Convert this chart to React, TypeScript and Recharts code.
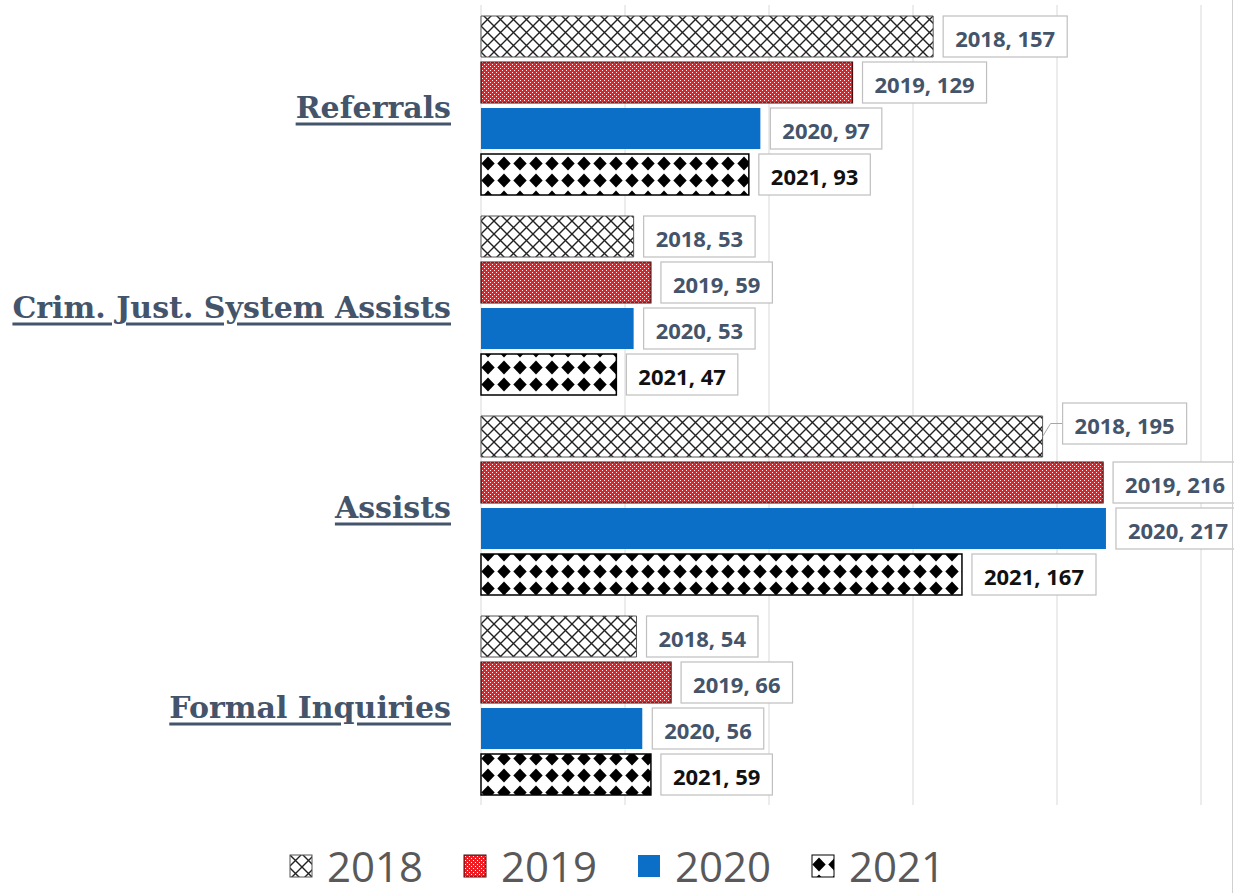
import React from 'react';
import { BarChart, Bar, XAxis, YAxis, CartesianGrid, LabelList } from 'recharts';

const categories = ['Referrals', 'Crim. Just. System Assists', 'Assists', 'Formal Inquiries'];
const years = ['2018', '2019', '2020', '2021'];
const values2018 = [157, 53, 195, 54];
const values2019 = [129, 59, 216, 66];
const values2020 = [97, 53, 217, 56];
const values2021 = [93, 47, 167, 59];
const xTicks = [0, 50, 100, 150, 200, 250];

const data = categories.map((category, i) => ({
  category,
  y2018: values2018[i],
  y2019: values2019[i],
  y2020: values2020[i],
  y2021: values2021[i],
}));

const fills: Record<string, string> = {
  '2018': 'url(#p2018)',
  '2019': 'url(#p2019)',
  '2020': '#0B6FC7',
  '2021': 'url(#p2021)',
};
const strokes: Record<string, string> = {
  '2018': '#555',
  '2019': '#4a0c0c',
  '2020': 'none',
  '2021': '#000',
};

// labels excel pushed off the bar end (drawn with a leader line)
const labelNudge: Record<string, { dx: number; dy: number }> = {
  'Assists|2018': { dx: 10, dy: -13 },
};

const LABEL_FONT = "700 22px 'Open Sans'";
let canvas: HTMLCanvasElement | null = null;
const measure = (s: string) => {
  if (!canvas) canvas = document.createElement('canvas');
  const ctx = canvas.getContext('2d');
  if (!ctx) return s.length * 12;
  ctx.font = LABEL_FONT;
  return ctx.measureText(s).width;
};

const makeLabel = (year: string) => (props: any) => {
  const { x, y, width, height, value, index } = props;
  const text = `${year}, ${value}`;
  const nudge = labelNudge[`${categories[index]}|${year}`] || { dx: 0, dy: 0 };
  const end = x + width;
  const bw = measure(text) + 24;
  const bx = end + 10 + nudge.dx;
  const by = y + nudge.dy;
  return (
    <g>
      {nudge.dx !== 0 && (
        <polyline
          points={`${end},${y + height / 2} ${end + 8},${by + height / 2} ${bx},${by + height / 2}`}
          fill="none"
          stroke="#A6A6A6"
        />
      )}
      <rect x={bx} y={by} width={bw} height={height} fill="#fff" stroke="#BFBFBF" strokeWidth={1.2} />
      <text
        x={bx + bw / 2}
        y={by + height / 2 + 1}
        textAnchor="middle"
        dominantBaseline="central"
        fontFamily="'Open Sans'"
        fontWeight={700}
        fontSize={22}
        fill={year === '2021' ? '#111' : '#44546A'}
      >
        {text}
      </text>
    </g>
  );
};

const CategoryTick = (props: any) => {
  const { y, payload } = props;
  return (
    <text
      x={451}
      y={y + 2}
      textAnchor="end"
      dominantBaseline="central"
      fontFamily="'DejaVu Serif'"
      fontWeight={700}
      fontSize={30}
      fill="#44546A"
      textDecoration="underline"
    >
      {payload.value}
    </text>
  );
};

const LegendBlock = () => (
  <div
    style={{
      position: 'absolute',
      left: 0,
      top: 846,
      width: 1234,
      display: 'flex',
      justifyContent: 'center',
      alignItems: 'center',
      gap: 40,
      fontFamily: "'Open Sans'",
      fontSize: 42,
      color: '#595959',
    }}
  >
    {years.map((yr) => (
      <div key={yr} style={{ display: 'flex', alignItems: 'center', gap: 14, height: 40 }}>
        <svg width={24} height={24}>
          <rect x={1} y={1} width={22} height={22} fill={fills[yr]} stroke={strokes[yr]} strokeWidth={1} />
        </svg>
        <span style={{ lineHeight: '40px' }}>{yr}</span>
      </div>
    ))}
  </div>
);

export default function App() {
  return (
    <div style={{ position: 'absolute', left: 0, top: 0, width: 1234, height: 893, background: '#fff' }}>
      <BarChart
        width={1234}
        height={893}
        data={data}
        layout="vertical"
        margin={{ top: 5, right: 33, bottom: 88, left: 0 }}
        barCategoryGap={11}
        barGap={5}
      >
        <defs>
          <pattern id="p2018" patternUnits="userSpaceOnUse" width={13} height={13}>
            <rect width={13} height={13} fill="#fff" />
            <path d="M0,0 L13,13 M13,0 L0,13" stroke="#222" strokeWidth={1.4} />
          </pattern>
          <pattern id="p2019" patternUnits="userSpaceOnUse" width={4} height={4}>
            <rect width={4} height={4} fill="#F01C24" />
            <rect x={0} y={0} width={1} height={1} fill="#fff" />
            <rect x={2} y={2} width={1} height={1} fill="#fff" />
          </pattern>
          <pattern id="p2021" patternUnits="userSpaceOnUse" width={16} height={17} y={2}>
            <rect width={16} height={17} fill="#fff" />
            <polygon points="8,1.5 14.7,8.5 8,15.5 1.3,8.5" fill="#000" />
          </pattern>
        </defs>
        <CartesianGrid horizontal={false} stroke="#D9D9D9" />
        <XAxis
          type="number"
          domain={[0, 250]}
          ticks={xTicks}
          height={0}
          axisLine={false}
          tickLine={{ stroke: '#D9D9D9' }}
          tickFormatter={() => ''}
        />
        <YAxis
          type="category"
          dataKey="category"
          width={481}
          axisLine={false}
          tickLine={false}
          tick={<CategoryTick />}
        />
        {years.map((yr) => (
          <Bar
            key={yr}
            dataKey={`y${yr}`}
            fill={fills[yr]}
            stroke={strokes[yr]}
            strokeWidth={yr === '2019' ? 1.2 : yr === '2018' ? 1 : 1.5}
            isAnimationActive={false}
          >
            <LabelList dataKey={`y${yr}`} content={makeLabel(yr)} />
          </Bar>
        ))}
      </BarChart>
      <LegendBlock />
      <div style={{ position: 'absolute', left: 1232, top: 0, width: 1, height: 893, background: '#D0D0D0' }} />
    </div>
  );
}
